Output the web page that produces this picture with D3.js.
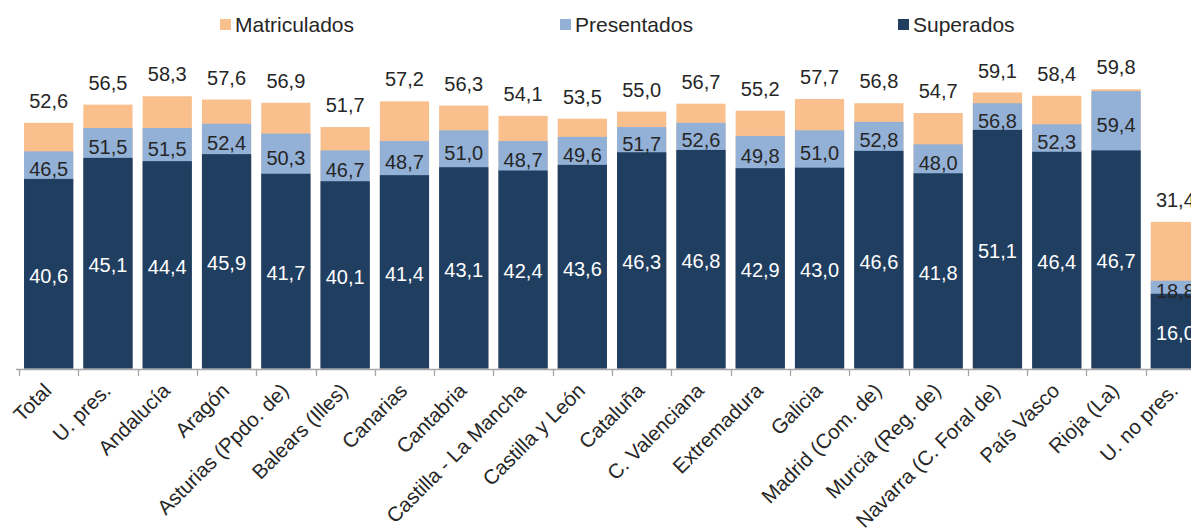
<html>
<head>
<meta charset="utf-8">
<title>Matriculados, presentados y superados</title>
<script src="https://cdn.jsdelivr.net/npm/d3@7"></script>
<style>
body {
	margin: 0;
	background: #fff;
	font-family: "Liberation Sans", Arial, sans-serif;
}
</style>
</head>
<body>
<div id="container"></div>

<script>

var categories = ["Total", "U. pres.", "Andalucía", "Aragón", "Asturias (Ppdo. de)", "Balears (Illes)",
	"Canarias", "Cantabria", "Castilla - La Mancha", "Castilla y León", "Cataluña", "C. Valenciana",
	"Extremadura", "Galicia", "Madrid (Com. de)", "Murcia (Reg. de)", "Navarra (C. Foral de)",
	"País Vasco", "Rioja (La)", "U. no pres."];

var matriculados = [52.6, 56.5, 58.3, 57.6, 56.9, 51.7, 57.2, 56.3, 54.1, 53.5, 55.0, 56.7, 55.2, 57.7, 56.8, 54.7, 59.1, 58.4, 59.8, 31.4];
var presentados  = [46.5, 51.5, 51.5, 52.4, 50.3, 46.7, 48.7, 51.0, 48.7, 49.6, 51.7, 52.6, 49.8, 51.0, 52.8, 48.0, 56.8, 52.3, 59.4, 18.8];
var superados    = [40.6, 45.1, 44.4, 45.9, 41.7, 40.1, 41.4, 43.1, 42.4, 43.6, 46.3, 46.8, 42.9, 43.0, 46.6, 41.8, 51.1, 46.4, 46.7, 16.0];

var seriesNames = ["Matriculados", "Presentados", "Superados"];
var seriesColors = ["#F9BF8D", "#93B1D7", "#1F3E60"];

var width = 1191, height = 532;
var base = 368.5;

var svg = d3.select('#container').append('svg')
	.attr('width', width).attr('height', height)
	.style('display', 'block');

var x = d3.scaleBand()
	.domain(categories)
	.range([19, 19 + 20 * 59.3])
	.paddingInner(0.17)
	.paddingOuter(0.085);

var y = d3.scaleLinear().domain([0, 60]).range([base, base - 60 * 4.67]);

var fmt = function(v) { return d3.format(".1f")(v).replace(".", ","); };

var rows = categories.map(function(c, i) {
	return { cat: c, m: matriculados[i], p: presentados[i], s: superados[i] };
});

// overlapped bars, biggest behind
var keys = ["m", "p", "s"];
keys.forEach(function(k, j) {
	svg.append('g').selectAll('rect')
		.data(rows)
		.enter().append('rect')
		.attr('x', function(d) { return x(d.cat); })
		.attr('width', x.bandwidth())
		.attr('y', function(d) { return y(d[k]); })
		.attr('height', function(d) { return base - y(d[k]); })
		.attr('fill', seriesColors[j]);
});

// axis line + ticks at band boundaries
var axis = svg.append('g').attr('stroke', '#A6A6A6').attr('stroke-width', 1.3);
axis.append('line').attr('x1', 16).attr('x2', width).attr('y1', 369.5).attr('y2', 369.5);
d3.range(categories.length + 1).forEach(function(i) {
	var tx = Math.round(19 + i * x.step()) + 0.5;
	axis.append('line').attr('x1', tx).attr('x2', tx).attr('y1', 369).attr('y2', 376);
});

// category labels
svg.append('g').selectAll('text')
	.data(rows)
	.enter().append('text')
	.attr('transform', function(d) {
		return 'translate(' + (x(d.cat) + x.bandwidth() / 2 + 4) + ',392) rotate(-45)';
	})
	.attr('text-anchor', 'end')
	.attr('font-size', 20.5)
	.attr('fill', '#262626')
	.text(function(d) { return d.cat; });

var labels = svg.append('g').attr('font-size', 20).attr('text-anchor', 'middle');

labels.selectAll('text.m')
	.data(rows)
	.enter().append('text')
	.attr('x', function(d) { return x(d.cat) + x.bandwidth() / 2; })
	.attr('y', function(d) { return y(d.m) - 15; })
	.attr('fill', '#262626')
	.text(function(d) { return fmt(d.m); });

labels.selectAll('text.p')
	.data(rows)
	.enter().append('text')
	.attr('x', function(d) { return x(d.cat) + x.bandwidth() / 2; })
	.attr('y', function(d) { return (y(d.p) + y(d.s)) / 2 + 4 + 7; })
	.attr('fill', '#262626')
	.text(function(d) { return fmt(d.p); });

labels.selectAll('text.s')
	.data(rows)
	.enter().append('text')
	.attr('x', function(d) { return x(d.cat) + x.bandwidth() / 2; })
	.attr('y', function(d) { return (y(d.s) + base) / 2 + 2 + 7; })
	.attr('fill', '#fff')
	.text(function(d) { return fmt(d.s); });

// legend
var legendX = [220, 560, 898];
var legend = svg.append('g');
seriesNames.forEach(function(n, i) {
	legend.append('rect')
		.attr('x', legendX[i]).attr('y', 19)
		.attr('width', 11).attr('height', 11)
		.attr('fill', seriesColors[i]);
	legend.append('text')
		.attr('x', legendX[i] + 15).attr('y', 32)
		.attr('font-size', 21)
		.attr('fill', '#262626')
		.text(n);
});

</script>
</body>
</html>
